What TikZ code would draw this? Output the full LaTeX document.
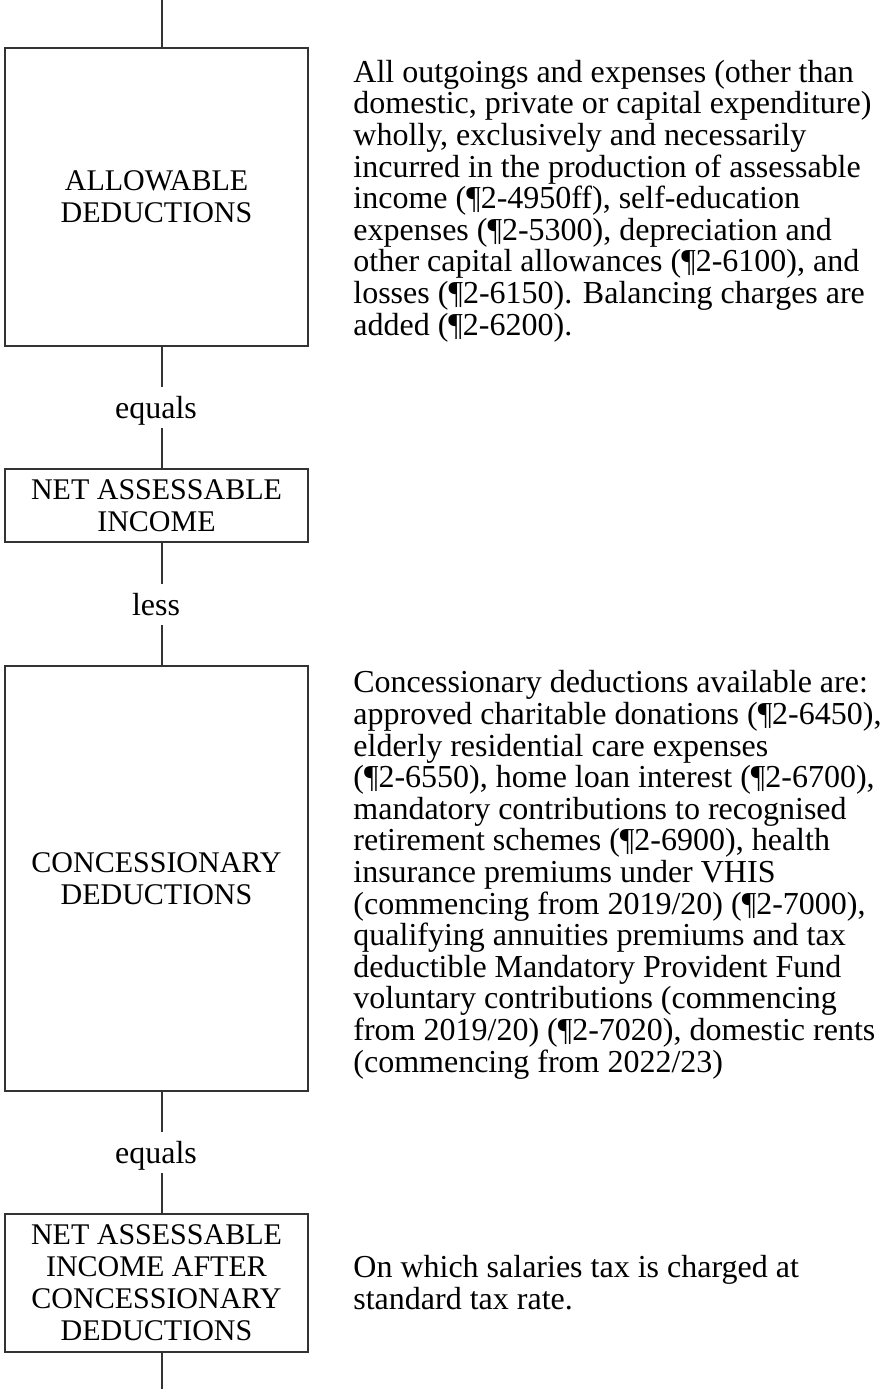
\documentclass[tikz,border=0pt]{standalone}
\usepackage{fontspec}
\setmainfont{Liberation Serif}

\begin{document}
\begin{tikzpicture}[x=0.5pt,y=-0.5pt,
  font=\fontsize{15}{16}\selectfont,
  stagebox/.style={draw=black!80,line width=0.7pt,minimum width=151.5pt,align=center,inner sep=0pt},
  linkword/.style={inner sep=0pt,text height=15.5pt,text depth=5pt,anchor=base,font=\fontsize{16}{16}\selectfont},
  notetext/.style={align=left,inner sep=0pt,anchor=base west,font=\fontsize{16}{15.8}\selectfont},
  spine/.style={draw=black!80,line width=0.7pt}]
\useasboundingbox (0,0) rectangle (883,1389);
% Ends of the vertical spine
\coordinate (top) at (162,0);
\coordinate (bottom) at (162,1389);
% Allowable deductions
\node[stagebox,minimum height=149pt] (allow) at (156.5,197) {ALLOWABLE\\DEDUCTIONS};
\node[notetext] (allownote) at (353,335) {All outgoings and expenses (other than\\
domestic, private or capital expenditure)\\
wholly, exclusively and necessarily\\
incurred in the production of assessable\\
income (\P2-4950ff), self-education\\
expenses (\P2-5300), depreciation and\\
other capital allowances (\P2-6100), and\\
losses (\P2-6150). Balancing charges are\\
added (\P2-6200).};
\draw[spine] (top) -- (top |- allow.north);
% equals
\node[linkword] (equals1) at (156,418) {equals};
\draw[spine] (top |- allow.south) -- (top |- equals1.north);
% Net assessable income
\node[stagebox,minimum height=36.5pt] (net) at (156.5,505.5) {NET ASSESSABLE\\INCOME};
\draw[spine] (top |- equals1.south) -- (top |- net.north);
% less
\node[linkword] (less) at (156,615) {less};
\draw[spine] (top |- net.south) -- (top |- less.north);
% Concessionary deductions
\node[stagebox,minimum height=212.5pt] (conc) at (156.5,878.5) {CONCESSIONARY\\DEDUCTIONS};
\node[notetext] (concnote) at (353,1072) {Concessionary deductions available are:\\
approved charitable donations (\P2-6450),\\
elderly residential care expenses\\
(\P2-6550), home loan interest (\P2-6700),\\
mandatory contributions to recognised\\
retirement schemes (\P2-6900), health\\
insurance premiums under VHIS\\
(commencing from 2019/20) (\P2-7000),\\
qualifying annuities premiums and tax\\
deductible Mandatory Provident Fund\\
voluntary contributions (commencing\\
from 2019/20) (\P2-7020), domestic rents\\
(commencing from 2022/23)};
\draw[spine] (top |- less.south) -- (top |- conc.north);
% equals
\node[linkword] (equals2) at (156,1163) {equals};
\draw[spine] (top |- conc.south) -- (top |- equals2.north);
% Net assessable income after concessionary deductions
\node[stagebox,minimum height=69pt] (after) at (156.5,1283) {NET ASSESSABLE\\INCOME AFTER\\CONCESSIONARY\\DEDUCTIONS};
\node[notetext] (afternote) at (353,1309) {On which salaries tax is charged at\\
standard tax rate.};
\draw[spine] (top |- equals2.south) -- (top |- after.north);
\draw[spine] (top |- after.south) -- (bottom);
\end{tikzpicture}
\end{document}
